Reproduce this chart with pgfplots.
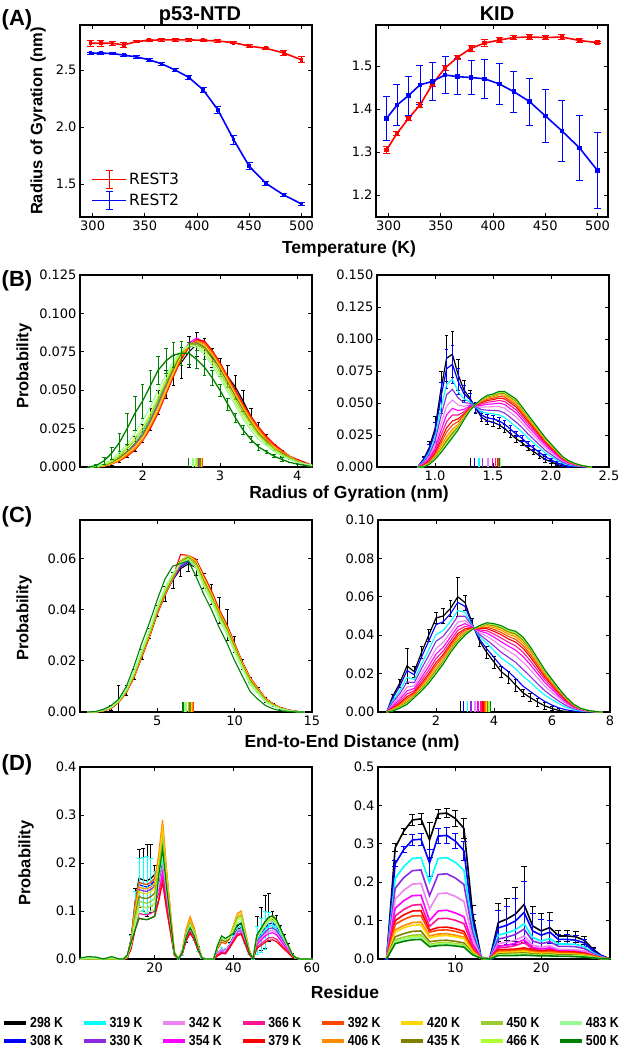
\documentclass[border=0pt]{standalone}
\usepackage{pgfplots}
\pgfplotsset{compat=1.18}
\usepackage{pgfplotstable}
\usepackage{fontspec}
\setmainfont{Liberation Sans}
\newfontfamily\dejavu{DejaVu Sans}
\newfontfamily\legfont[FakeStretch=0.85]{Liberation Sans}

\definecolor{c298}{RGB}{0,0,0}
\definecolor{c308}{RGB}{0,0,255}
\definecolor{c319}{RGB}{0,255,255}
\definecolor{c330}{RGB}{138,43,226}
\definecolor{c342}{RGB}{238,130,238}
\definecolor{c354}{RGB}{255,0,255}
\definecolor{c366}{RGB}{255,20,147}
\definecolor{c379}{RGB}{255,0,0}
\definecolor{c392}{RGB}{255,69,0}
\definecolor{c406}{RGB}{255,140,0}
\definecolor{c420}{RGB}{255,215,0}
\definecolor{c435}{RGB}{128,128,0}
\definecolor{c450}{RGB}{154,205,50}
\definecolor{c466}{RGB}{173,255,47}
\definecolor{c483}{RGB}{152,251,152}
\definecolor{c500}{RGB}{0,128,0}

\newcommand{\lab}{\bfseries\fontsize{17.5}{20}\selectfont}
\newcommand{\ylab}{\bfseries\fontsize{16.5}{19}\selectfont}
\newcommand{\lgf}[1]{{\legfont\bfseries\fontsize{14.5}{15}\selectfont #1}}
\newcommand{\rst}[1]{{\dejavu\fontsize{15.5}{16}\selectfont #1}}

\pgfplotsset{
  panel/.style={
    scale only axis, width=232pt, height=192pt, anchor=north west,
    axis line style={line width=1.1pt},
    every tick/.style={black, line width=0.8pt},
    major tick length=4pt, tick align=inside,
    ticklabel style={font=\dejavu\fontsize{13}{15}\selectfont},
    /pgf/number format/assume math mode=true,
    scaled ticks=false,
  },
  ebA/.style={error bars/.cd, y dir=both, y explicit,
    error bar style={line width=0.9pt, #1},
    error mark options={rotate=90, line width=0.9pt, mark size=3.5pt, #1}},
  ebD/.style={error bars/.cd, y dir=both, y explicit,
    error bar style={line width=0.9pt, #1},
    error mark options={rotate=90, line width=0.9pt, mark size=3pt, #1}},
  ebS/.style={error bars/.cd, y dir=both, y explicit,
    error bar style={line width=0.6pt, #1},
    error mark options={rotate=90, line width=0.6pt, mark size=1.8pt, #1}},
}

% ---------------- Panel A ----------------
\pgfplotstableread{
T r3 e3 r2 e2 k3 ke3 k2 ke2
298 2.735 0.025 2.646 0.010 1.305 0.008 1.378 0.052
308 2.735 0.025 2.648 0.010 1.343 0.005 1.409 0.047
319 2.735 0.020 2.645 0.010 1.378 0.005 1.431 0.045
330 2.720 0.020 2.630 0.010 1.409 0.005 1.456 0.045
342 2.750 0.010 2.615 0.010 1.458 0.005 1.464 0.045
354 2.760 0.010 2.590 0.015 1.495 0.005 1.479 0.042
366 2.765 0.010 2.555 0.015 1.520 0.005 1.475 0.042
379 2.765 0.010 2.500 0.015 1.541 0.007 1.473 0.040
392 2.765 0.010 2.436 0.015 1.553 0.008 1.470 0.045
406 2.760 0.010 2.325 0.020 1.560 0.006 1.458 0.047
420 2.755 0.010 2.150 0.030 1.566 0.005 1.440 0.048
435 2.740 0.010 1.890 0.040 1.567 0.005 1.417 0.055
450 2.710 0.015 1.655 0.030 1.566 0.005 1.384 0.062
466 2.690 0.010 1.505 0.020 1.567 0.005 1.349 0.070
483 2.650 0.020 1.404 0.015 1.559 0.005 1.309 0.075
500 2.590 0.025 1.325 0.010 1.554 0.003 1.257 0.088
}\tabA

% ---------------- Panel B left ----------------
\pgfplotstableread{
x T298 T308 T319 T330 T342 T354 T366 T379 T392 T406 T420 T435 T450 T466 T483 T500 e298 e500
1.3 0 0 0 0 0 0 0 0 0 0 0 0 0 0 0 0 0 0
1.4 0 0 0 0 0 0 0 0 0 0 0 0 0 0.0003 0.0005 0.001 0 0.001
1.5 0.001 0.001 0.001 0.001 0.0008 0.0008 0.0007 0.0005 0.0006 0.0006 0.0008 0.001 0.0012 0.0015 0.002 0.004 0.001 0.002
1.6 0.003 0.0028 0.003 0.0027 0.0025 0.0022 0.0022 0.002 0.002 0.0022 0.0025 0.003 0.0035 0.004 0.005 0.009 0.002 0.004
1.7 0.006 0.0055 0.006 0.0055 0.005 0.0048 0.0045 0.004 0.0042 0.0045 0.005 0.006 0.007 0.008 0.0095 0.016 0.003 0.006
1.8 0.010 0.0095 0.010 0.0095 0.009 0.0085 0.008 0.007 0.0075 0.008 0.009 0.010 0.012 0.013 0.015 0.025 0.004 0.010
1.9 0.015 0.014 0.015 0.014 0.0135 0.013 0.012 0.011 0.0115 0.012 0.013 0.015 0.017 0.019 0.022 0.035 0.005 0.011
2.0 0.022 0.021 0.022 0.021 0.020 0.019 0.018 0.017 0.0175 0.018 0.019 0.021 0.024 0.026 0.030 0.043 0.006 0.011
2.1 0.031 0.030 0.031 0.030 0.029 0.028 0.026 0.025 0.026 0.027 0.028 0.030 0.033 0.035 0.039 0.053 0.007 0.010
2.2 0.042 0.041 0.042 0.041 0.040 0.038 0.037 0.035 0.036 0.037 0.038 0.041 0.044 0.046 0.050 0.063 0.008 0.009
2.3 0.054 0.053 0.054 0.053 0.052 0.050 0.049 0.047 0.048 0.049 0.050 0.053 0.055 0.057 0.060 0.069 0.009 0.008
2.4 0.063 0.064 0.065 0.064 0.063 0.062 0.061 0.059 0.060 0.061 0.062 0.064 0.066 0.067 0.069 0.073 0.010 0.008
2.5 0.068 0.072 0.074 0.073 0.072 0.072 0.071 0.070 0.071 0.072 0.073 0.074 0.075 0.075 0.076 0.074 0.010 0.008
2.6 0.075 0.078 0.080 0.079 0.080 0.081 0.079 0.078 0.079 0.079 0.080 0.080 0.080 0.079 0.079 0.074 0.010 0.007
2.7 0.080 0.080 0.081 0.081 0.083 0.084 0.083 0.083 0.082 0.082 0.081 0.081 0.080 0.079 0.078 0.070 0.008 0.006
2.8 0.077 0.078 0.078 0.079 0.080 0.081 0.081 0.082 0.081 0.080 0.079 0.078 0.077 0.075 0.073 0.065 0.007 0.005
2.9 0.071 0.073 0.073 0.073 0.074 0.075 0.075 0.076 0.075 0.074 0.073 0.072 0.070 0.068 0.066 0.058 0.006 0.005
3.0 0.065 0.066 0.066 0.066 0.066 0.067 0.067 0.068 0.067 0.066 0.065 0.064 0.062 0.060 0.058 0.050 0.006 0.004
3.1 0.059 0.058 0.058 0.058 0.058 0.058 0.058 0.059 0.058 0.057 0.056 0.055 0.053 0.051 0.049 0.041 0.007 0.004
3.2 0.052 0.050 0.049 0.049 0.049 0.049 0.049 0.050 0.049 0.048 0.047 0.046 0.044 0.042 0.040 0.032 0.008 0.003
3.3 0.043 0.041 0.040 0.040 0.040 0.040 0.040 0.041 0.040 0.039 0.038 0.037 0.035 0.033 0.031 0.024 0.007 0.003
3.4 0.033 0.032 0.032 0.032 0.032 0.032 0.032 0.033 0.032 0.031 0.030 0.029 0.028 0.026 0.024 0.018 0.005 0.002
3.5 0.025 0.025 0.025 0.025 0.025 0.025 0.025 0.026 0.025 0.024 0.023 0.022 0.021 0.020 0.018 0.013 0.004 0.002
3.6 0.018 0.019 0.019 0.019 0.019 0.019 0.019 0.020 0.019 0.018 0.017 0.017 0.016 0.015 0.014 0.010 0.003 0.001
3.7 0.013 0.014 0.014 0.014 0.014 0.014 0.014 0.015 0.014 0.013 0.013 0.012 0.012 0.011 0.010 0.007 0.002 0.001
3.8 0.009 0.010 0.010 0.010 0.010 0.010 0.010 0.011 0.010 0.010 0.009 0.009 0.008 0.008 0.007 0.005 0.002 0.001
3.9 0.006 0.007 0.007 0.007 0.007 0.007 0.007 0.007 0.007 0.007 0.006 0.006 0.006 0.005 0.005 0.003 0.001 0
4.0 0.004 0.004 0.004 0.004 0.004 0.004 0.004 0.005 0.004 0.004 0.004 0.004 0.004 0.003 0.003 0.002 0.001 0
4.1 0.002 0.002 0.002 0.002 0.002 0.002 0.002 0.003 0.002 0.002 0.002 0.002 0.002 0.002 0.002 0.001 0 0
4.2 0.001 0.001 0.001 0.001 0.001 0.001 0.001 0.001 0.001 0.001 0.001 0.001 0.001 0.001 0.001 0 0 0
}\tabBL

% ---------------- Panel B right ----------------
\pgfplotstableread{
x T298 T308 T319 T330 T342 T354 T366 T379 T392 T406 T420 T435 T450 T466 T483 T500 e298 e308
0.85 0 0 0 0 0 0 0 0 0 0 0 0 0 0 0 0 0 0
0.90 0.006 0.0053 0.0042 0.0035 0.0027 0.0021 0.0016 0.0012 0.0009 0.0006 0.0004 0.0003 0.0002 0.0001 0.0001 0 0.002 0.002
0.95 0.015 0.0134 0.0111 0.0095 0.0079 0.0066 0.0055 0.0046 0.0040 0.0033 0.0029 0.0027 0.0024 0.0023 0.0021 0.002 0.005 0.004
1.00 0.030 0.0271 0.0228 0.0199 0.0168 0.0144 0.0125 0.0108 0.0096 0.0084 0.0077 0.0072 0.0067 0.0065 0.0062 0.006 0.010 0.008
1.05 0.060 0.0541 0.0453 0.0394 0.0331 0.0282 0.0242 0.0208 0.0184 0.0159 0.0144 0.0134 0.0125 0.0120 0.0115 0.011 0.015 0.012
1.10 0.085 0.0768 0.0646 0.0564 0.0476 0.0408 0.0354 0.0306 0.0272 0.0238 0.0218 0.0204 0.0190 0.0184 0.0177 0.017 0.018 0.015
1.15 0.088 0.0802 0.0685 0.0607 0.0523 0.0458 0.0406 0.0360 0.0328 0.0295 0.0276 0.0263 0.0250 0.0243 0.0237 0.023 0.018 0.015
1.20 0.072 0.0668 0.0591 0.0539 0.0484 0.0441 0.0406 0.0376 0.0355 0.0333 0.0320 0.0311 0.0303 0.0298 0.0294 0.029 0.012 0.010
1.25 0.060 0.0572 0.0531 0.0503 0.0474 0.0451 0.0432 0.0416 0.0405 0.0393 0.0386 0.0382 0.0377 0.0375 0.0372 0.037 0.008 0.007
1.30 0.054 0.0528 0.0510 0.0498 0.0485 0.0475 0.0467 0.0460 0.0455 0.0450 0.0447 0.0445 0.0443 0.0442 0.0441 0.044 0.006 0.005
1.35 0.046 0.0464 0.0469 0.0473 0.0477 0.0480 0.0482 0.0484 0.0486 0.0487 0.0488 0.0489 0.0489 0.0489 0.0490 0.049 0.004 0.004
1.40 0.039 0.0407 0.0432 0.0449 0.0467 0.0481 0.0492 0.0502 0.0509 0.0516 0.0520 0.0523 0.0526 0.0527 0.0529 0.053 0.003 0.003
1.45 0.036 0.0384 0.0420 0.0444 0.0470 0.0490 0.0506 0.0520 0.0530 0.0540 0.0546 0.0550 0.0554 0.0556 0.0558 0.056 0.003 0.003
1.50 0.035 0.0376 0.0416 0.0442 0.0471 0.0493 0.0511 0.0526 0.0537 0.0548 0.0555 0.0559 0.0563 0.0566 0.0568 0.057 0.003 0.003
1.55 0.033 0.0361 0.0408 0.0439 0.0473 0.0499 0.0520 0.0538 0.0551 0.0564 0.0572 0.0577 0.0582 0.0585 0.0587 0.059 0.003 0.003
1.60 0.030 0.0335 0.0387 0.0422 0.0460 0.0489 0.0512 0.0532 0.0547 0.0561 0.0570 0.0576 0.0581 0.0584 0.0587 0.059 0.003 0.003
1.65 0.026 0.0296 0.0350 0.0386 0.0425 0.0455 0.0479 0.0500 0.0515 0.0530 0.0539 0.0545 0.0551 0.0554 0.0557 0.056 0.003 0.003
1.70 0.022 0.0257 0.0313 0.0350 0.0391 0.0422 0.0446 0.0468 0.0484 0.0499 0.0508 0.0515 0.0521 0.0524 0.0527 0.053 0.003 0.002
1.75 0.019 0.0224 0.0274 0.0308 0.0344 0.0372 0.0394 0.0414 0.0428 0.0442 0.0450 0.0456 0.0462 0.0464 0.0467 0.047 0.002 0.002
1.80 0.015 0.0181 0.0228 0.0259 0.0293 0.0319 0.0340 0.0358 0.0371 0.0384 0.0392 0.0397 0.0402 0.0405 0.0407 0.041 0.002 0.002
1.85 0.012 0.0148 0.0189 0.0217 0.0247 0.0270 0.0288 0.0304 0.0316 0.0327 0.0334 0.0339 0.0343 0.0345 0.0348 0.035 0.002 0.002
1.90 0.009 0.0114 0.0150 0.0174 0.0200 0.0220 0.0236 0.0250 0.0260 0.0270 0.0276 0.0280 0.0284 0.0286 0.0288 0.029 0.002 0.002
1.95 0.006 0.0080 0.0111 0.0131 0.0154 0.0171 0.0184 0.0196 0.0205 0.0213 0.0218 0.0222 0.0225 0.0227 0.0228 0.023 0.002 0.002
2.00 0.004 0.0057 0.0082 0.0099 0.0117 0.0131 0.0142 0.0152 0.0159 0.0166 0.0170 0.0173 0.0176 0.0177 0.0179 0.018 0.001 0.001
2.05 0.002 0.0033 0.0053 0.0066 0.0081 0.0092 0.0100 0.0108 0.0114 0.0119 0.0122 0.0125 0.0127 0.0128 0.0129 0.013 0.001 0.001
2.10 0.001 0.0018 0.0031 0.0039 0.0049 0.0056 0.0061 0.0066 0.0070 0.0073 0.0075 0.0077 0.0078 0.0079 0.0079 0.008 0.001 0.001
2.15 0 0.0006 0.0015 0.0021 0.0028 0.0033 0.0037 0.0040 0.0043 0.0045 0.0047 0.0048 0.0049 0.0049 0.0050 0.005 0 0.001
2.20 0 0.0004 0.0009 0.0013 0.0017 0.0020 0.0022 0.0024 0.0026 0.0027 0.0028 0.0029 0.0029 0.0029 0.0030 0.003 0 0
2.25 0 0.0002 0.0005 0.0006 0.0008 0.0010 0.0011 0.0012 0.0013 0.0014 0.0014 0.0014 0.0015 0.0015 0.0015 0.0015 0 0
2.30 0 0.0001 0.0002 0.0002 0.0003 0.0003 0.0004 0.0004 0.0004 0.0005 0.0005 0.0005 0.0005 0.0005 0.0005 0.0005 0 0
2.35 0 0 0 0 0 0 0 0 0 0 0 0 0 0 0 0 0 0
}\tabBR

% ---------------- Panel C left ----------------
\pgfplotstableread{
x T298 T308 T319 T330 T342 T354 T366 T379 T392 T406 T420 T435 T450 T466 T483 T500 e298
0.5 0 0 0 0 0 0 0 0 0 0 0 0 0 0 0 0 0
1.0 0 0 0 0 0 0 0 0 0 0 0 0 0 0.0001 0.0001 0.0002 0
1.5 0.0006 0.0005 0.0005 0.0005 0.0005 0.0005 0.0005 0.0004 0.0005 0.0005 0.0005 0.0006 0.0006 0.0007 0.0007 0.001 0.0005
2.0 0.0017 0.0016 0.0015 0.0015 0.0015 0.0014 0.0015 0.0013 0.0015 0.0015 0.0016 0.0017 0.0017 0.0018 0.002 0.0025 0.001
2.5 0.0045 0.0041 0.0042 0.0040 0.0041 0.0039 0.0040 0.0037 0.0040 0.0040 0.0040 0.0041 0.0042 0.0043 0.0045 0.005 0.006
3.0 0.0085 0.0082 0.0083 0.0080 0.0081 0.0079 0.0080 0.0076 0.0079 0.0080 0.0081 0.0082 0.0084 0.0086 0.0089 0.010 0.002
3.5 0.0146 0.0143 0.0142 0.0140 0.0141 0.0139 0.0140 0.0135 0.0139 0.0140 0.0142 0.0144 0.0148 0.0152 0.0158 0.018 0.002
4.0 0.0226 0.0224 0.0222 0.0220 0.0221 0.0218 0.0220 0.0214 0.0219 0.0221 0.0223 0.0225 0.0230 0.0235 0.0243 0.027 0.002
4.5 0.0306 0.0303 0.0302 0.0300 0.0301 0.0298 0.0300 0.0293 0.0299 0.0301 0.0303 0.0305 0.0310 0.0315 0.0323 0.035 0.002
5.0 0.0395 0.0393 0.0392 0.0390 0.0391 0.0388 0.0390 0.0383 0.0389 0.0391 0.0393 0.0395 0.0400 0.0405 0.0413 0.044 0.002
5.5 0.0462 0.0461 0.0462 0.0459 0.0461 0.0460 0.0460 0.0455 0.0461 0.0462 0.0463 0.0466 0.0472 0.0478 0.0487 0.052 0.003
6.0 0.0515 0.0518 0.0522 0.0517 0.0521 0.0523 0.0520 0.0526 0.0523 0.0521 0.0525 0.0527 0.0533 0.0535 0.0542 0.057 0.003
6.5 0.0560 0.0567 0.0575 0.0570 0.0580 0.0586 0.0582 0.0615 0.0588 0.0582 0.0592 0.0589 0.0590 0.0583 0.0581 0.058 0.003
7.0 0.0578 0.0585 0.0596 0.0590 0.0600 0.0607 0.0600 0.0612 0.0606 0.0600 0.0612 0.0605 0.0610 0.0600 0.0596 0.059 0.003
7.5 0.0565 0.0570 0.0578 0.0573 0.0580 0.0586 0.0580 0.0597 0.0586 0.0580 0.0590 0.0582 0.0578 0.0570 0.0562 0.053 0.003
8.0 0.0512 0.0512 0.0517 0.0510 0.0520 0.0525 0.0520 0.0535 0.0525 0.0520 0.0525 0.0513 0.0508 0.0500 0.0490 0.046 0.003
8.5 0.0460 0.0455 0.0458 0.0451 0.0460 0.0464 0.0460 0.0474 0.0465 0.0460 0.0462 0.0453 0.0448 0.0440 0.0430 0.040 0.004
9.0 0.0398 0.0388 0.0391 0.0386 0.0390 0.0394 0.0390 0.0402 0.0395 0.0390 0.0392 0.0384 0.0378 0.0370 0.0360 0.033 0.005
9.5 0.0340 0.0328 0.0332 0.0327 0.0330 0.0333 0.0330 0.0340 0.0334 0.0330 0.0331 0.0324 0.0318 0.0312 0.0303 0.027 0.006
10.0 0.0265 0.0257 0.0261 0.0256 0.0260 0.0262 0.0260 0.0268 0.0263 0.0260 0.0260 0.0254 0.0248 0.0242 0.0233 0.020 0.003
10.5 0.0186 0.0187 0.0191 0.0188 0.0190 0.0192 0.0190 0.0196 0.0192 0.0190 0.0189 0.0185 0.0180 0.0175 0.0167 0.014 0.002
11.0 0.0125 0.0127 0.0131 0.0128 0.0130 0.0132 0.0130 0.0135 0.0132 0.0130 0.0129 0.0125 0.0120 0.0115 0.0107 0.008 0.001
11.5 0.0086 0.0088 0.0091 0.0088 0.0090 0.0091 0.0090 0.0094 0.0091 0.0090 0.0089 0.0086 0.0082 0.0078 0.0072 0.005 0.001
12.0 0.0048 0.0049 0.0051 0.0049 0.0050 0.0051 0.0050 0.0053 0.0051 0.0050 0.0049 0.0047 0.0045 0.0042 0.0039 0.0025 0.001
12.5 0.0029 0.0029 0.0030 0.0029 0.0030 0.0031 0.0030 0.0032 0.0031 0.0030 0.0029 0.0028 0.0026 0.0025 0.0022 0.0012 0.0005
13.0 0.0014 0.0015 0.0015 0.0015 0.0015 0.0015 0.0015 0.0016 0.0015 0.0015 0.0015 0.0014 0.0013 0.0012 0.0011 0.0005 0.0005
13.5 0.0007 0.0007 0.0007 0.0007 0.0007 0.0007 0.0007 0.0008 0.0007 0.0007 0.0007 0.0006 0.0006 0.0005 0.0005 0.0002 0
14.0 0.0002 0.0002 0.0002 0.0002 0.0002 0.0002 0.0002 0.0002 0.0002 0.0002 0.0002 0.0002 0.0002 0.0001 0.0001 0 0
14.5 0 0 0 0 0 0 0 0 0 0 0 0 0 0 0 0 0
}\tabCL

% ---------------- Panel C right ----------------
\pgfplotstableread{
x T298 T308 T319 T330 T342 T354 T366 T379 T392 T406 T420 T435 T450 T466 T483 T500 e298
0.3 0 0 0 0 0 0 0 0 0 0 0 0 0 0 0 0 0
0.5 0.008 0.0071 0.0058 0.0049 0.0039 0.0031 0.0025 0.0020 0.0016 0.0013 0.0010 0.0009 0.0007 0.0007 0.0006 0.0005 0.001
0.75 0.015 0.0134 0.0111 0.0095 0.0079 0.0066 0.0055 0.0046 0.0040 0.0033 0.0029 0.0027 0.0024 0.0023 0.0021 0.002 0.002
1.0 0.024 0.0216 0.0180 0.0156 0.0130 0.0110 0.0094 0.0080 0.0070 0.0060 0.0054 0.0050 0.0046 0.0044 0.0042 0.004 0.009
1.25 0.021 0.0194 0.0170 0.0153 0.0136 0.0122 0.0111 0.0102 0.0095 0.0089 0.0084 0.0082 0.0079 0.0078 0.0076 0.0075 0.003
1.5 0.031 0.0286 0.0250 0.0226 0.0200 0.0180 0.0164 0.0150 0.0140 0.0130 0.0124 0.0120 0.0116 0.0114 0.0112 0.011 0.003
1.75 0.040 0.0370 0.0325 0.0295 0.0263 0.0238 0.0218 0.0200 0.0188 0.0175 0.0168 0.0163 0.0158 0.0155 0.0153 0.015 0.003
2.0 0.049 0.0455 0.0403 0.0368 0.0330 0.0302 0.0278 0.0258 0.0244 0.0229 0.0220 0.0215 0.0209 0.0206 0.0203 0.020 0.003
2.25 0.050 0.0470 0.0425 0.0395 0.0363 0.0338 0.0318 0.0300 0.0288 0.0275 0.0268 0.0263 0.0258 0.0255 0.0253 0.025 0.004
2.5 0.054 0.0512 0.0471 0.0443 0.0414 0.0391 0.0372 0.0356 0.0345 0.0333 0.0326 0.0322 0.0317 0.0315 0.0312 0.031 0.004
2.75 0.060 0.0571 0.0528 0.0499 0.0468 0.0444 0.0425 0.0408 0.0396 0.0384 0.0377 0.0372 0.0367 0.0365 0.0362 0.036 0.010
3.0 0.057 0.0550 0.0519 0.0499 0.0477 0.0460 0.0446 0.0434 0.0426 0.0417 0.0412 0.0409 0.0405 0.0403 0.0402 0.040 0.004
3.25 0.046 0.0456 0.0451 0.0447 0.0444 0.0441 0.0438 0.0436 0.0435 0.0433 0.0432 0.0432 0.0431 0.0431 0.0430 0.043 0.003
3.5 0.037 0.0380 0.0394 0.0404 0.0414 0.0422 0.0428 0.0434 0.0438 0.0442 0.0444 0.0446 0.0448 0.0448 0.0449 0.045 0.003
3.75 0.031 0.0329 0.0357 0.0375 0.0395 0.0411 0.0423 0.0434 0.0442 0.0450 0.0454 0.0457 0.0460 0.0462 0.0463 0.0465 0.003
4.0 0.026 0.0284 0.0320 0.0344 0.0370 0.0390 0.0406 0.0420 0.0430 0.0440 0.0446 0.0450 0.0454 0.0456 0.0458 0.046 0.003
4.25 0.021 0.0239 0.0282 0.0311 0.0342 0.0366 0.0385 0.0402 0.0414 0.0426 0.0433 0.0438 0.0443 0.0445 0.0448 0.045 0.003
4.5 0.018 0.0210 0.0255 0.0285 0.0318 0.0343 0.0363 0.0380 0.0393 0.0405 0.0413 0.0418 0.0423 0.0425 0.0428 0.043 0.003
4.75 0.014 0.0174 0.0224 0.0258 0.0294 0.0322 0.0344 0.0364 0.0378 0.0392 0.0400 0.0406 0.0412 0.0414 0.0417 0.042 0.003
5.0 0.010 0.0135 0.0187 0.0222 0.0260 0.0289 0.0312 0.0332 0.0347 0.0361 0.0370 0.0376 0.0381 0.0384 0.0387 0.039 0.002
5.25 0.0075 0.0107 0.0155 0.0186 0.0221 0.0247 0.0268 0.0287 0.0300 0.0314 0.0321 0.0327 0.0332 0.0335 0.0337 0.034 0.002
5.5 0.0052 0.0080 0.0120 0.0148 0.0177 0.0200 0.0218 0.0234 0.0246 0.0257 0.0264 0.0269 0.0273 0.0275 0.0278 0.028 0.002
5.75 0.0032 0.0055 0.0088 0.0111 0.0135 0.0154 0.0169 0.0182 0.0192 0.0201 0.0207 0.0211 0.0214 0.0216 0.0218 0.022 0.002
6.0 0.0018 0.0036 0.0064 0.0082 0.0102 0.0117 0.0129 0.0140 0.0147 0.0155 0.0159 0.0162 0.0165 0.0167 0.0168 0.017 0.001
6.25 0.0008 0.0021 0.0042 0.0055 0.0070 0.0081 0.0090 0.0098 0.0103 0.0109 0.0112 0.0114 0.0117 0.0118 0.0119 0.012 0.001
6.5 0.0002 0.0011 0.0024 0.0033 0.0042 0.0049 0.0055 0.0060 0.0064 0.0068 0.0070 0.0071 0.0073 0.0074 0.0074 0.0075 0
6.75 0 0.0005 0.0012 0.0017 0.0022 0.0026 0.0029 0.0032 0.0034 0.0036 0.0037 0.0038 0.0039 0.0039 0.0040 0.004 0
7.0 0 0.0002 0.0005 0.0008 0.0010 0.0012 0.0013 0.0014 0.0015 0.0016 0.0017 0.0017 0.0017 0.0018 0.0018 0.0018 0
7.25 0 0.0001 0.0002 0.0003 0.0004 0.0005 0.0006 0.0006 0.0007 0.0007 0.0007 0.0008 0.0008 0.0008 0.0008 0.0008 0
7.5 0 0 0.0001 0.0001 0.0001 0.0001 0.0001 0.0002 0.0002 0.0002 0.0002 0.0002 0.0002 0.0002 0.0002 0.0002 0
7.75 0 0 0 0 0 0 0 0 0 0 0 0 0 0 0 0 0
}\tabCR

% ---------------- Panel D left ----------------
\pgfplotstableread{
x T298 T308 T319 T330 T342 T354 T366 T379 T392 T406 T420 T435 T450 T466 T483 T500 e298 e319
1 0 0 0 0 0 0 0 0 0 0 0 0 0 0 0 0.002 0 0
3 0 0 0 0 0 0 0 0 0 0 0 0 0 0.002 0.002 0.005 0 0
5 0 0 0 0 0 0 0 0 0 0 0 0 0 0.001 0.002 0.004 0 0
7 0 0 0 0 0 0 0 0 0 0 0 0 0 0 0 0 0 0
9 0 0 0 0 0 0 0 0 0 0 0 0 0 0.002 0.003 0.005 0 0
11 0 0 0 0 0 0 0 0 0 0 0 0 0 0 0 0 0 0
12 0 0 0 0 0 0 0 0 0 0 0 0 0 0 0 0 0 0
13 0.003 0.003 0.003 0.003 0.003 0.002 0.002 0.002 0.004 0.004 0.004 0.004 0.005 0.006 0.007 0.008 0 0
14 0.042 0.039 0.040 0.036 0.033 0.028 0.024 0.021 0.040 0.038 0.035 0.033 0.030 0.030 0.030 0.035 0.010 0.010
15 0.118 0.109 0.112 0.102 0.091 0.077 0.067 0.060 0.112 0.105 0.098 0.091 0.084 0.077 0.070 0.060 0.030 0.030
16 0.168 0.155 0.160 0.145 0.130 0.110 0.095 0.085 0.160 0.150 0.140 0.130 0.120 0.110 0.100 0.085 0.060 0.050
17 0.165 0.152 0.157 0.142 0.127 0.108 0.093 0.083 0.157 0.147 0.137 0.127 0.118 0.108 0.098 0.083 0.065 0.055
18 0.163 0.150 0.155 0.141 0.126 0.107 0.092 0.082 0.155 0.146 0.136 0.126 0.116 0.107 0.097 0.082 0.075 0.060
19 0.168 0.155 0.160 0.145 0.130 0.110 0.095 0.085 0.160 0.150 0.140 0.130 0.120 0.110 0.100 0.085 0.070 0.050
20 0.176 0.163 0.168 0.152 0.137 0.116 0.100 0.089 0.168 0.158 0.147 0.137 0.126 0.116 0.105 0.089 0.020 0.015
21 0.185 0.171 0.176 0.160 0.143 0.135 0.124 0.120 0.210 0.218 0.203 0.180 0.188 0.173 0.165 0.173 0.020 0.015
22 0.220 0.200 0.210 0.190 0.190 0.180 0.165 0.160 0.280 0.290 0.270 0.240 0.250 0.230 0.220 0.230 0.020 0.020
23 0.143 0.130 0.137 0.124 0.124 0.117 0.107 0.104 0.182 0.189 0.176 0.156 0.163 0.150 0.143 0.150 0.010 0.010
24 0.077 0.070 0.074 0.067 0.067 0.063 0.058 0.056 0.098 0.102 0.095 0.084 0.088 0.081 0.077 0.081 0.010 0.010
25 0.011 0.010 0.011 0.010 0.010 0.009 0.008 0.008 0.014 0.015 0.014 0.012 0.013 0.012 0.011 0.012 0 0
26 0 0 0 0 0 0 0 0 0 0 0 0 0 0 0 0 0 0
27 0.012 0.012 0.012 0.012 0.012 0.011 0.011 0.011 0.017 0.018 0.016 0.015 0.015 0.014 0.014 0.013 0.005 0.005
28 0.042 0.041 0.042 0.041 0.042 0.039 0.038 0.039 0.060 0.062 0.056 0.053 0.053 0.049 0.049 0.046 0.008 0.006
29 0.060 0.058 0.060 0.058 0.060 0.056 0.054 0.055 0.085 0.088 0.080 0.075 0.075 0.070 0.070 0.065 0.008 0.006
30 0.045 0.044 0.045 0.044 0.045 0.042 0.041 0.041 0.064 0.066 0.060 0.056 0.056 0.053 0.053 0.049 0.006 0.005
31 0.021 0.020 0.021 0.020 0.021 0.020 0.019 0.019 0.030 0.031 0.028 0.026 0.026 0.025 0.025 0.023 0.005 0.004
32 0.002 0.002 0.002 0.002 0.002 0.002 0.002 0.002 0.003 0.003 0.002 0.002 0.002 0.002 0.002 0.002 0 0
33 0 0 0 0 0 0 0 0 0 0 0 0 0 0 0 0 0 0
35 0 0 0 0 0 0 0 0 0 0 0 0 0 0 0 0 0 0
36 0.012 0.012 0.012 0.012 0.012 0.009 0.007 0.007 0.021 0.024 0.024 0.024 0.027 0.027 0.027 0.029 0.005 0.004
37 0.020 0.020 0.020 0.020 0.020 0.015 0.012 0.012 0.035 0.040 0.040 0.040 0.045 0.045 0.045 0.048 0.005 0.004
38 0.018 0.018 0.018 0.018 0.018 0.014 0.011 0.011 0.032 0.036 0.036 0.036 0.041 0.041 0.041 0.043 0.005 0.004
39 0.029 0.028 0.028 0.027 0.028 0.025 0.023 0.023 0.043 0.045 0.043 0.041 0.045 0.045 0.045 0.048 0.005 0.004
40 0.046 0.043 0.044 0.042 0.043 0.039 0.036 0.036 0.067 0.070 0.067 0.063 0.063 0.060 0.056 0.053 0.008 0.006
41 0.062 0.059 0.060 0.057 0.059 0.052 0.049 0.049 0.090 0.095 0.090 0.086 0.086 0.081 0.076 0.071 0.008 0.006
42 0.065 0.062 0.063 0.060 0.062 0.055 0.052 0.052 0.095 0.100 0.095 0.090 0.090 0.085 0.080 0.075 0.008 0.006
43 0.039 0.037 0.038 0.036 0.037 0.033 0.031 0.031 0.057 0.060 0.057 0.054 0.054 0.051 0.048 0.045 0.006 0.005
44 0.013 0.012 0.013 0.012 0.012 0.011 0.010 0.010 0.019 0.020 0.019 0.018 0.018 0.017 0.016 0.015 0.004 0.003
45 0 0 0 0 0 0 0 0 0 0 0 0 0 0 0 0 0 0
46 0.050 0.041 0.039 0.036 0.033 0.030 0.025 0.022 0.047 0.047 0.047 0.044 0.047 0.047 0.044 0.050 0.040 0.030
47 0.063 0.053 0.049 0.046 0.042 0.039 0.032 0.028 0.060 0.060 0.060 0.056 0.060 0.060 0.056 0.063 0.045 0.035
48 0.077 0.064 0.060 0.055 0.051 0.047 0.038 0.034 0.072 0.072 0.072 0.068 0.072 0.072 0.068 0.077 0.055 0.040
49 0.087 0.073 0.068 0.063 0.058 0.053 0.044 0.039 0.082 0.082 0.082 0.078 0.082 0.082 0.078 0.087 0.050 0.030
50 0.090 0.075 0.070 0.065 0.060 0.055 0.045 0.040 0.085 0.085 0.085 0.080 0.085 0.085 0.080 0.090 0.010 0.010
51 0.081 0.068 0.063 0.059 0.054 0.050 0.041 0.036 0.077 0.077 0.077 0.072 0.077 0.077 0.072 0.081 0.010 0.008
52 0.063 0.053 0.049 0.046 0.042 0.039 0.032 0.028 0.060 0.060 0.060 0.056 0.060 0.060 0.056 0.063 0.008 0.006
53 0.045 0.038 0.035 0.033 0.030 0.028 0.023 0.020 0.043 0.043 0.043 0.040 0.043 0.043 0.040 0.045 0.006 0.005
54 0.027 0.023 0.021 0.020 0.018 0.017 0.014 0.012 0.026 0.026 0.026 0.024 0.026 0.026 0.024 0.027 0.005 0.004
55 0.009 0.008 0.007 0.007 0.006 0.006 0.005 0.004 0.009 0.009 0.009 0.008 0.009 0.009 0.008 0.009 0.003 0.002
56 0.002 0.002 0.002 0.002 0.002 0.002 0.002 0.002 0.002 0.002 0.002 0.002 0.002 0.002 0.002 0.002 0 0
57 0 0 0 0 0 0 0 0 0 0 0 0 0 0 0 0 0 0
60 0 0 0 0 0 0 0 0 0 0 0 0 0 0 0 0 0 0
}\tabDL

% ---------------- Panel D right ----------------
\pgfplotstableread{
x T298 T308 T319 T330 T342 T354 T366 T379 T392 T406 T420 T435 T450 T466 T483 T500 e298 e308
2 0 0 0 0 0 0 0 0 0 0 0 0 0 0 0 0 0 0
3 0.290 0.248 0.210 0.184 0.156 0.132 0.112 0.100 0.090 0.076 0.070 0.058 0.050 0.046 0.044 0.040 0.010 0.008
4 0.333 0.285 0.241 0.212 0.179 0.152 0.129 0.115 0.103 0.087 0.081 0.066 0.057 0.053 0.051 0.046 0.008 0.008
5 0.362 0.310 0.262 0.230 0.195 0.165 0.140 0.125 0.112 0.095 0.088 0.072 0.062 0.058 0.055 0.050 0.015 0.015
6 0.365 0.312 0.264 0.232 0.197 0.166 0.142 0.126 0.113 0.096 0.089 0.073 0.063 0.059 0.056 0.051 0.015 0.015
7 0.310 0.250 0.200 0.165 0.130 0.100 0.085 0.075 0.070 0.060 0.055 0.045 0.038 0.035 0.034 0.032 0.045 0.035
8 0.378 0.320 0.262 0.220 0.170 0.125 0.105 0.082 0.075 0.065 0.060 0.048 0.042 0.040 0.038 0.035 0.012 0.020
9 0.380 0.322 0.264 0.222 0.172 0.127 0.106 0.083 0.076 0.066 0.061 0.049 0.043 0.041 0.039 0.036 0.012 0.020
10 0.366 0.307 0.252 0.211 0.163 0.120 0.101 0.079 0.072 0.062 0.058 0.046 0.040 0.038 0.036 0.034 0.020 0.020
11 0.340 0.282 0.231 0.194 0.150 0.110 0.092 0.072 0.066 0.057 0.053 0.042 0.037 0.035 0.033 0.031 0.025 0.025
12 0.120 0.100 0.084 0.070 0.054 0.040 0.034 0.026 0.024 0.021 0.019 0.015 0.013 0.013 0.012 0.011 0.020 0.015
13 0.005 0.004 0.004 0.003 0.003 0.003 0.003 0.002 0.002 0.002 0.002 0.002 0.002 0.002 0.002 0.002 0 0
14 0 0 0 0 0 0 0 0 0 0 0 0 0 0 0 0 0 0
15 0.095 0.081 0.062 0.052 0.040 0.033 0.029 0.024 0.021 0.018 0.016 0.013 0.011 0.010 0.010 0.009 0.050 0.045
16 0.104 0.088 0.068 0.057 0.044 0.036 0.031 0.025 0.022 0.019 0.017 0.014 0.012 0.011 0.010 0.009 0.055 0.050
17 0.117 0.099 0.076 0.064 0.049 0.041 0.035 0.026 0.023 0.020 0.018 0.015 0.013 0.012 0.011 0.009 0.070 0.060
18 0.142 0.121 0.092 0.078 0.060 0.050 0.043 0.029 0.025 0.022 0.020 0.016 0.014 0.013 0.012 0.010 0.100 0.080
19 0.086 0.073 0.056 0.047 0.036 0.030 0.026 0.024 0.021 0.018 0.016 0.013 0.011 0.010 0.010 0.009 0.050 0.045
20 0.073 0.062 0.047 0.040 0.031 0.026 0.022 0.021 0.019 0.016 0.014 0.012 0.010 0.009 0.009 0.008 0.045 0.040
21 0.082 0.070 0.053 0.045 0.034 0.029 0.025 0.023 0.020 0.017 0.015 0.013 0.011 0.010 0.009 0.008 0.040 0.030
22 0.060 0.051 0.039 0.033 0.025 0.021 0.018 0.019 0.017 0.014 0.013 0.011 0.009 0.008 0.008 0.007 0.015 0.012
23 0.060 0.051 0.039 0.033 0.025 0.021 0.018 0.019 0.017 0.014 0.013 0.011 0.009 0.008 0.008 0.007 0.015 0.012
24 0.058 0.049 0.038 0.032 0.024 0.020 0.017 0.018 0.015 0.013 0.012 0.010 0.008 0.008 0.007 0.006 0.015 0.012
25 0.049 0.042 0.032 0.027 0.021 0.017 0.015 0.015 0.013 0.011 0.010 0.008 0.007 0.007 0.006 0.005 0.010 0.010
26 0.026 0.022 0.017 0.014 0.011 0.009 0.008 0.009 0.008 0.007 0.006 0.005 0.004 0.004 0.004 0.003 0.005 0.005
27 0.009 0.008 0.006 0.005 0.004 0.003 0.003 0.003 0.003 0.002 0.002 0.002 0.001 0.001 0.001 0.001 0 0
28 0 0 0 0 0 0 0 0 0 0 0 0 0 0 0 0 0 0
}\tabDR

% ---------------- mean markers ----------------
\pgfplotstableread{
h T298 T308 T319 T330 T342 T354 T366 T379 T392 T406 T420 T435 T450 T466 T483 T500
0.006 2.735 2.735 2.735 2.72 2.75 2.76 2.765 2.765 2.765 2.76 2.755 2.74 2.71 2.69 2.65 2.59
}\mBL
\pgfplotstableread{
h T298 T308 T319 T330 T342 T354 T366 T379 T392 T406 T420 T435 T450 T466 T483 T500
0.007 1.305 1.343 1.378 1.409 1.458 1.495 1.52 1.541 1.553 1.56 1.566 1.567 1.566 1.567 1.559 1.554
}\mBR
\pgfplotstableread{
h T298 T308 T319 T330 T342 T354 T366 T379 T392 T406 T420 T435 T450 T466 T483 T500
0.004 7.05 7.1 7.15 7.15 7.2 7.25 7.3 7.35 7.3 7.25 7.2 7.1 7.0 6.9 6.8 6.65
}\mCL
\pgfplotstableread{
h T298 T308 T319 T330 T342 T354 T366 T379 T392 T406 T420 T435 T450 T466 T483 T500
0.0055 2.85 2.95 3.08 3.2 3.35 3.45 3.55 3.62 3.68 3.72 3.75 3.78 3.8 3.82 3.84 3.87
}\mCR

\begin{document}
\begin{tikzpicture}
\useasboundingbox (0pt,0pt) rectangle (628pt,-1050pt);

% ===== A left =====
\begin{axis}[panel, at={(80pt,-25pt)},
  xmin=287.9, xmax=510.1, ymin=1.21, ymax=2.895,
  xtick={300,350,400,450,500}, ytick={1.5,2.0,2.5},
  yticklabel style={/pgf/number format/.cd, fixed, fixed zerofill, precision=1},
  legend style={at={(0.035,0.025)}, anchor=south west, draw=none, fill=none,
    row sep=2pt, cells={anchor=west}},
  legend image code/.code={
    \draw[#1, line width=1.8pt] (0pt,0pt) -- (34pt,0pt);
    \draw[#1, line width=1pt] (17pt,-9pt) -- (17pt,9pt);
    \draw[#1, line width=1pt] (13.5pt,-9pt) -- (20.5pt,-9pt);
    \draw[#1, line width=1pt] (13.5pt,9pt) -- (20.5pt,9pt);}]
\addplot[red, line width=1.6pt, mark=square*, mark size=1.1pt, forget plot, ebA=red]
  table[x=T, y=r3, y error=e3]{\tabA};
\addplot[blue, line width=1.6pt, mark=square*, mark size=1.1pt, forget plot, ebA=blue]
  table[x=T, y=r2, y error=e2]{\tabA};
\addlegendimage{red}\addlegendentry{\rst{REST3}}
\addlegendimage{blue}\addlegendentry{\rst{REST2}}
\end{axis}

% ===== A right =====
\begin{axis}[panel, at={(376pt,-25pt)},
  xmin=287.9, xmax=510.1, ymin=1.149, ymax=1.595,
  xtick={300,350,400,450,500}, ytick={1.2,1.3,1.4,1.5},
  yticklabel style={/pgf/number format/.cd, fixed, fixed zerofill, precision=1}]
\addplot[red, line width=1.6pt, mark=square*, mark size=1.5pt, ebA=red]
  table[x=T, y=k3, y error=ke3]{\tabA};
\addplot[blue, line width=1.6pt, mark=square*, mark size=1.5pt, ebA=blue]
  table[x=T, y=k2, y error=ke2]{\tabA};
\end{axis}

% ===== B left =====
\begin{axis}[panel, at={(80pt,-275pt)},
  xmin=1.19, xmax=4.19, ymin=0, ymax=0.125,
  xtick={2,3,4}, ytick={0,0.025,0.05,0.075,0.1,0.125},
  yticklabel style={/pgf/number format/.cd, fixed, fixed zerofill, precision=3}]
\addplot[c298, line width=1.1pt, ebS=c298] table[x=x, y=T298, y error=e298]{\tabBL};
\pgfplotsinvokeforeach{308,319,330,342,354,366,379,392,406,420,435,450,466,483}{
  \addplot[c#1, line width=1.1pt] table[x=x, y=T#1]{\tabBL};
}
\addplot[c500, line width=1.3pt, ebS=c500] table[x=x, y=T500, y error=e500]{\tabBL};
\pgfplotsinvokeforeach{298,308,319,330,342,354,366,379,392,406,420,435,450,466,483,500}{
  \addplot[c#1, ycomb, line width=1.4pt] table[x=T#1, y=h]{\mBL};
}
\end{axis}

% ===== B right =====
\begin{axis}[panel, at={(377pt,-275pt)},
  xmin=0.5, xmax=2.5, ymin=0, ymax=0.15,
  xtick={1,1.5,2,2.5}, ytick={0,0.025,0.05,0.075,0.1,0.125,0.15},
  xticklabel style={/pgf/number format/.cd, fixed, fixed zerofill, precision=1},
  yticklabel style={/pgf/number format/.cd, fixed, fixed zerofill, precision=3}]
\addplot[c298, line width=1.2pt, ebS=c298] table[x=x, y=T298, y error=e298]{\tabBR};
\addplot[c308, line width=1.2pt, ebS=c308] table[x=x, y=T308, y error=e308]{\tabBR};
\pgfplotsinvokeforeach{319,330,342,354,366,379,392,406,420,435,450,466,483,500}{
  \addplot[c#1, line width=1.1pt] table[x=x, y=T#1]{\tabBR};
}
\pgfplotsinvokeforeach{298,308,319,330,342,354,366,379,392,406,420,435,450,466,483,500}{
  \addplot[c#1, ycomb, line width=1.4pt] table[x=T#1, y=h]{\mBR};
}
\end{axis}

% ===== C left =====
\begin{axis}[panel, at={(80pt,-520pt)},
  xmin=0, xmax=15, ymin=0, ymax=0.075,
  xtick={5,10,15}, ytick={0,0.02,0.04,0.06},
  yticklabel style={/pgf/number format/.cd, fixed, fixed zerofill, precision=2}]
\addplot[c298, line width=1.1pt, ebS=c298] table[x=x, y=T298, y error=e298]{\tabCL};
\pgfplotsinvokeforeach{308,319,330,342,354,366,379,392,406,420,435,450,466,483,500}{
  \addplot[c#1, line width=1.1pt] table[x=x, y=T#1]{\tabCL};
}
\pgfplotsinvokeforeach{298,308,319,330,342,354,366,379,392,406,420,435,450,466,483,500}{
  \addplot[c#1, ycomb, line width=1.4pt] table[x=T#1, y=h]{\mCL};
}
\end{axis}

% ===== C right =====
\begin{axis}[panel, at={(378pt,-520pt)},
  xmin=0, xmax=8, ymin=0, ymax=0.1,
  xtick={2,4,6,8}, ytick={0,0.02,0.04,0.06,0.08,0.1},
  yticklabel style={/pgf/number format/.cd, fixed, fixed zerofill, precision=2}]
\addplot[c298, line width=1.2pt, ebS=c298] table[x=x, y=T298, y error=e298]{\tabCR};
\pgfplotsinvokeforeach{308,319,330,342,354,366,379,392,406,420,435,450,466,483,500}{
  \addplot[c#1, line width=1.1pt] table[x=x, y=T#1]{\tabCR};
}
\pgfplotsinvokeforeach{298,308,319,330,342,354,366,379,392,406,420,435,450,466,483,500}{
  \addplot[c#1, ycomb, line width=1.4pt] table[x=T#1, y=h]{\mCR};
}
\end{axis}

% ===== D left =====
\begin{axis}[panel, at={(80pt,-767pt)},
  xmin=1, xmax=60, ymin=0, ymax=0.4,
  xtick={20,40,60}, ytick={0,0.1,0.2,0.3,0.4},
  yticklabel style={/pgf/number format/.cd, fixed, fixed zerofill, precision=1}]
\addplot[c298, line width=1.2pt, ebS=c298] table[x=x, y=T298, y error=e298]{\tabDL};
\addplot[c308, line width=1.2pt] table[x=x, y=T308]{\tabDL};
\addplot[c319, line width=1.2pt, ebS=c319] table[x=x, y=T319, y error=e319]{\tabDL};
\pgfplotsinvokeforeach{330,342,354,366,379,392,406,420,435,450,466,483,500}{
  \addplot[c#1, line width=1.2pt] table[x=x, y=T#1]{\tabDL};
}
\end{axis}

% ===== D right =====
\begin{axis}[panel, at={(378pt,-767pt)},
  xmin=1, xmax=28, ymin=0, ymax=0.5,
  xtick={10,20}, ytick={0,0.1,0.2,0.3,0.4,0.5},
  yticklabel style={/pgf/number format/.cd, fixed, fixed zerofill, precision=1}]
\addplot[c298, line width=1.6pt, ebD=c298] table[x=x, y=T298, y error=e298]{\tabDR};
\addplot[c308, line width=1.6pt, ebD=c308] table[x=x, y=T308, y error=e308]{\tabDR};
\pgfplotsinvokeforeach{319,330,342,354,366,379,392,406,420,435,450,466,483,500}{
  \addplot[c#1, line width=1.6pt] table[x=x, y=T#1]{\tabDR};
}
\end{axis}

% ===== bottom legend =====
\begin{axis}[at={(0pt,-1050pt)}, anchor=south west, scale only axis,
  width=628pt, height=40pt, hide axis, xmin=0, xmax=1, ymin=0, ymax=1,
  legend columns=8,
  legend style={at={(0.004,0.45)}, anchor=west, draw=none, fill=none,
    inner sep=0pt, row sep=2pt,
    nodes={inner sep=2pt},
    /tikz/every even column/.append style={column sep=17pt}},
  legend cell align=left,
  legend image code/.code={\draw[#1, line width=3.5pt] (0pt,0pt) -- (22pt,0pt);}]
\addlegendimage{c298}\addlegendentry{\lgf{298 K}}
\addlegendimage{c319}\addlegendentry{\lgf{319 K}}
\addlegendimage{c342}\addlegendentry{\lgf{342 K}}
\addlegendimage{c366}\addlegendentry{\lgf{366 K}}
\addlegendimage{c392}\addlegendentry{\lgf{392 K}}
\addlegendimage{c420}\addlegendentry{\lgf{420 K}}
\addlegendimage{c450}\addlegendentry{\lgf{450 K}}
\addlegendimage{c483}\addlegendentry{\lgf{483 K}}
\addlegendimage{c308}\addlegendentry{\lgf{308 K}}
\addlegendimage{c330}\addlegendentry{\lgf{330 K}}
\addlegendimage{c354}\addlegendentry{\lgf{354 K}}
\addlegendimage{c379}\addlegendentry{\lgf{379 K}}
\addlegendimage{c406}\addlegendentry{\lgf{406 K}}
\addlegendimage{c435}\addlegendentry{\lgf{435 K}}
\addlegendimage{c466}\addlegendentry{\lgf{466 K}}
\addlegendimage{c500}\addlegendentry{\lgf{500 K}}
\end{axis}

% ===== texts =====
\node[font=\bfseries\fontsize{22}{24}\selectfont] at (17pt,-20pt) {(A)};
\node[font=\bfseries\fontsize{22}{24}\selectfont] at (17pt,-281pt) {(B)};
\node[font=\bfseries\fontsize{22}{24}\selectfont] at (17pt,-517pt) {(C)};
\node[font=\bfseries\fontsize{22}{24}\selectfont] at (17pt,-765pt) {(D)};
\node[anchor=base, font=\bfseries\fontsize{20}{22}\selectfont] at (200pt,-20pt) {p53-NTD};
\node[anchor=base, font=\bfseries\fontsize{20}{22}\selectfont] at (497pt,-20pt) {KID};
\node[anchor=base, font=\lab] at (349pt,-253pt) {Temperature (K)};
\node[anchor=base, font=\lab] at (349pt,-498pt) {Radius of Gyration (nm)};
\node[anchor=base, font=\lab] at (352pt,-747pt) {End-to-End Distance (nm)};
\node[anchor=base, font=\lab] at (345pt,-998pt) {Residue};
\node[rotate=90, font=\ylab] at (38pt,-121pt) {Radius of Gyration (nm)};
\node[rotate=90, font=\ylab] at (24pt,-366pt) {Probability};
\node[rotate=90, font=\ylab] at (24pt,-618pt) {Probability};
\node[rotate=90, font=\ylab] at (26pt,-863pt) {Probability};
\end{tikzpicture}
\end{document}
